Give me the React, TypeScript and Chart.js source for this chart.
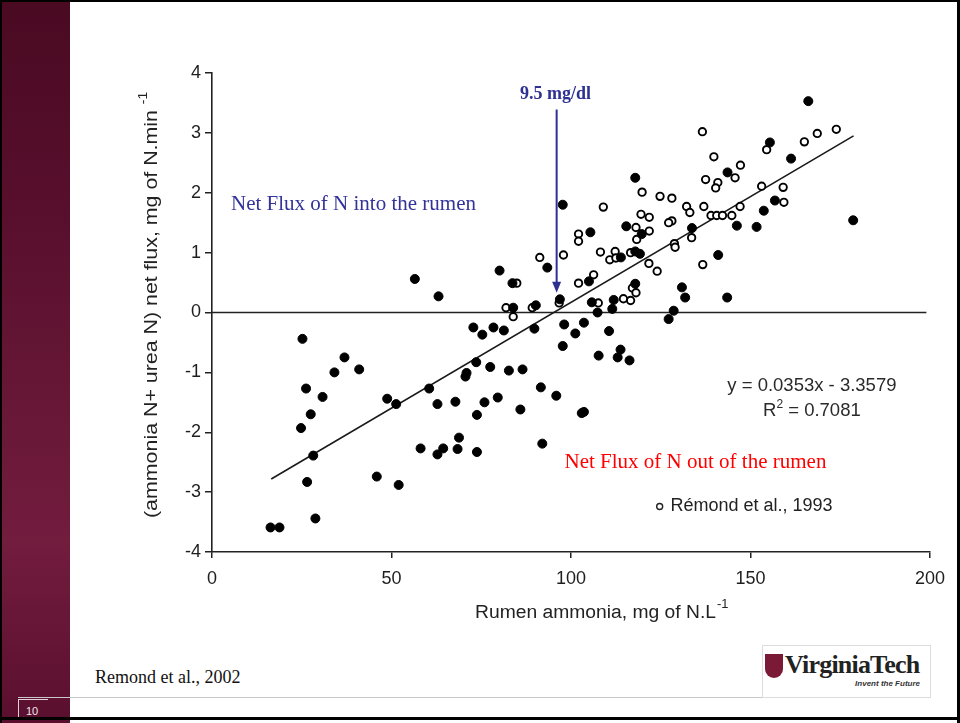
import React, { useEffect, useRef } from "react";
import { Chart, registerables } from "chart.js";

Chart.register(...registerables);

const SANS = '"Liberation Sans", Arial, Helvetica, sans-serif';
const SERIF = '"Liberation Serif", "Times New Roman", Times, serif';
const BLUE = "#2e3192";
const INK = "#1e1e1e";

const X_TICKS = [0, 50, 100, 150, 200];
const Y_TICKS = [-4, -3, -2, -1, 0, 1, 2, 3, 4];

// Rémond et al., 2002 (filled circles)
const filledX = [
  97.7, 56.5, 63.1, 80.1, 93.4, 83.7, 83.9, 90.2, 96.9, 166.1, 155.4, 161.3, 143.6, 117.9, 156.8, 178.6,
  153.7, 146.2, 151.7, 133.7, 115.4, 119.7, 105.4, 113.9, 117.9, 119.2, 141.0, 105.0, 117.9, 130.9, 131.8,
  143.5, 111.9, 111.5, 105.8, 107.4, 128.6, 127.2, 103.6, 98.1, 101.2, 97.7, 110.6, 107.7, 113.8, 113.0,
  116.3, 103.0, 103.6, 25.2, 36.9, 34.1, 41.0, 26.2, 30.8, 27.5, 24.8, 28.2, 26.5, 28.8, 16.3, 18.8, 45.9,
  52.0, 48.8, 51.3, 60.5, 62.8, 58.1, 62.8, 64.4, 67.8, 68.4, 68.8, 70.6, 70.9, 72.8, 75.3, 78.4, 81.3,
  73.6, 77.5, 73.8, 75.9, 79.6, 73.8, 82.7, 86.5, 85.9, 91.6, 92.0, 95.9, 89.8,
];
const filledY = [
  1.8, 0.56, 0.27, 0.7, 0.75, 0.49, 0.08, 0.12, 0.22, 3.53, 2.84, 2.57, 2.34, 2.25, 1.87, 1.54,
  1.7, 1.45, 1.43, 1.41, 1.44, 1.31, 1.34, 0.92, 1.02, 0.98, 0.96, 0.52, 0.48, 0.42, 0.25,
  0.25, 0.21, 0.06, 0.17, 0.0, 0.03, -0.11, -0.17, -0.2, -0.35, -0.56, -0.31, -0.72, -0.62, -0.75,
  -0.8, -1.68, -1.66, -0.44, -0.75, -1.0, -0.95, -1.27, -1.41, -1.7, -1.93, -2.39, -2.83, -3.44, -3.59, -3.59, -2.74,
  -2.88, -1.44, -1.53, -1.27, -1.53, -2.27, -2.37, -2.27, -1.49, -2.28, -2.09, -1.07, -1.01, -0.25, -0.37, -0.25, -0.3,
  -0.83, -0.91, -1.71, -1.5, -1.42, -2.33, -0.97, -0.95, -1.62, -1.25, -2.19, -1.39, -0.27,
];

// Rémond et al., 1993 (open circles)
const openX = [
  84.9, 91.3, 97.9, 102.1, 102.1, 102.1, 81.9, 83.9, 89.2, 96.7, 136.6, 173.9, 168.6, 165.0, 154.5, 139.8,
  147.2, 145.7, 137.5, 140.9, 140.3, 119.8, 124.8, 128.1, 153.1, 159.1, 159.3, 109.0, 132.2, 133.1, 137.0,
  147.1, 139.0, 140.6, 142.2, 144.8, 133.6, 128.1, 127.2, 119.5, 121.8, 118.1, 121.8, 118.3, 128.8, 129.0,
  108.2, 112.3, 110.8, 112.5, 116.6, 121.7, 124.0, 136.7, 106.3, 117.1, 118.1, 116.6, 114.6, 107.6,
];
const openY = [
  0.49, 0.92, 0.96, 1.31, 1.19, 0.49, 0.08, -0.07, 0.08, 0.16, 3.02, 3.06, 2.99, 2.85, 2.72, 2.6,
  2.46, 2.25, 2.22, 2.17, 2.08, 2.01, 1.94, 1.91, 2.11, 2.09, 1.84, 1.76, 1.77, 1.67, 1.77,
  1.77, 1.62, 1.62, 1.62, 1.62, 1.25, 1.53, 1.5, 1.64, 1.59, 1.42, 1.36, 1.22, 1.15, 1.09,
  1.01, 1.02, 0.88, 0.91, 1.0, 0.82, 0.69, 0.8, 0.63, 0.41, 0.33, 0.2, 0.23, 0.16,
];

// regression line and zero reference line
const fitX = [16.5, 178.7];
const fitY = [-2.78, 2.95];
const zeroX = [0, 199];
const zeroY = [0, 0];

// annotation texts
const yTitle = "(ammonia N+ urea N) net flux, mg of N.min";
const xTitle = "Rumen ammonia, mg of N.L";
const unitSup = "-1";
const thresholdLabel = "9.5 mg/dl";
const thresholdX = 96;
const arrowTopY = 3.39;
const arrowTipY = 0.33;
const intoLabel = "Net Flux of N into the rumen";
const outLabel = "Net Flux of N out of the rumen";
const eqLine = "y = 0.0353x - 3.3579";
const r2Value = " = 0.7081";
const legendLabel = "Rémond et al., 1993";

const toPts = (xs: number[], ys: number[]) => xs.map((x, i) => ({ x, y: ys[i] }));

const overlay = {
  id: "overlay",
  afterDatasetsDraw(chart: any) {
    const { ctx, chartArea } = chart;
    const xs = chart.scales.x;
    const ys = chart.scales.y;
    const px = (v: number) => xs.getPixelForValue(v);
    const py = (v: number) => ys.getPixelForValue(v);
    ctx.save();

    // threshold arrow
    const ax = px(thresholdX);
    const tip = py(arrowTipY);
    ctx.strokeStyle = BLUE;
    ctx.fillStyle = BLUE;
    ctx.lineWidth = 2;
    ctx.beginPath();
    ctx.moveTo(ax, py(arrowTopY));
    ctx.lineTo(ax, tip - 9);
    ctx.stroke();
    ctx.beginPath();
    ctx.moveTo(ax, tip);
    ctx.lineTo(ax - 4.5, tip - 11);
    ctx.lineTo(ax + 4.5, tip - 11);
    ctx.closePath();
    ctx.fill();

    ctx.textBaseline = "middle";
    ctx.textAlign = "center";
    ctx.font = `bold 18px ${SERIF}`;
    ctx.fillText(thresholdLabel, px(95.7), py(3.64));

    ctx.textAlign = "left";
    ctx.font = `21px ${SERIF}`;
    ctx.fillStyle = "#33339a";
    ctx.fillText(intoLabel, px(5.3), py(1.8));
    ctx.fillStyle = "#ff0000";
    ctx.fillText(outLabel, px(98.2), py(-2.5));

    // equation
    ctx.fillStyle = "#2a2a2a";
    ctx.font = `18.5px ${SANS}`;
    ctx.textAlign = "center";
    ctx.fillText(eqLine, px(167.1), py(-1.22));
    const rW = ctx.measureText("R").width;
    ctx.font = `12px ${SANS}`;
    const sW = ctx.measureText("2").width;
    ctx.font = `18.5px ${SANS}`;
    const vW = ctx.measureText(r2Value).width;
    const total = rW + sW + vW;
    const sx = px(167.1) - total / 2;
    const ry = py(-1.65);
    ctx.textAlign = "left";
    ctx.fillText("R", sx, ry);
    ctx.font = `12px ${SANS}`;
    ctx.fillText("2", sx + rW, ry - 7);
    ctx.font = `18.5px ${SANS}`;
    ctx.fillText(r2Value, sx + rW + sW, ry);

    // legend
    ctx.strokeStyle = "#222";
    ctx.lineWidth = 1.4;
    ctx.beginPath();
    ctx.arc(px(124.7), py(-3.24), 3, 0, Math.PI * 2);
    ctx.stroke();
    ctx.fillStyle = "#222";
    ctx.font = `18px ${SANS}`;
    ctx.fillText(legendLabel, px(127.7), py(-3.24));

    // x title
    ctx.font = `18px ${SANS}`;
    const xw = ctx.measureText(xTitle).width;
    ctx.save();
    ctx.translate(chartArea.left + 263, chartArea.bottom + 61);
    ctx.scale(241 / xw, 1);
    ctx.fillText(xTitle, 0, 0);
    ctx.font = `12px ${SANS}`;
    ctx.fillText(unitSup, xw + 1, -8);
    ctx.restore();

    // y title
    ctx.font = `18.5px ${SANS}`;
    const yw = ctx.measureText(yTitle).width;
    ctx.save();
    ctx.translate(chartArea.left - 60, chartArea.bottom - 34);
    ctx.rotate(-Math.PI / 2);
    ctx.scale(408 / yw, 1);
    ctx.fillText(yTitle, 0, 0);
    ctx.font = `12px ${SANS}`;
    ctx.fillText(unitSup, yw + 5, -8);
    ctx.restore();

    ctx.restore();
  },
};

function ScatterChart() {
  const ref = useRef<HTMLCanvasElement | null>(null);
  useEffect(() => {
    if (!ref.current) return;
    const axisCommon = {
      type: "linear" as const,
      grid: { display: true, drawOnChartArea: false, drawTicks: true, color: "#222", lineWidth: 1.5 },
      border: { display: true, color: "#222", width: 1.6 },
    };
    const chart = new Chart(ref.current, {
      type: "scatter",
      data: {
        datasets: [
          {
            label: "Rémond et al., 2002",
            data: toPts(filledX, filledY),
            backgroundColor: "#000",
            borderColor: "#000",
            borderWidth: 1,
            pointRadius: 4.5,
          },
          {
            label: "Rémond et al., 1993",
            data: toPts(openX, openY),
            backgroundColor: "#fff",
            borderColor: "#000",
            borderWidth: 1.9,
            pointRadius: 3.7,
          },
          {
            label: "fit",
            type: "line",
            data: toPts(fitX, fitY),
            borderColor: "#1a1a1a",
            borderWidth: 1.6,
            pointRadius: 0,
            showLine: true,
          } as any,
          {
            label: "zero",
            type: "line",
            data: toPts(zeroX, zeroY),
            borderColor: "#222",
            borderWidth: 1.7,
            pointRadius: 0,
            showLine: true,
          } as any,
        ],
      },
      options: {
        animation: false,
        responsive: false,
        devicePixelRatio: 1,
        layout: { padding: { left: 0, right: 30, top: 73, bottom: 71 } },
        plugins: { legend: { display: false }, tooltip: { enabled: false } },
        events: [],
        scales: {
          x: {
            ...axisCommon,
            min: 0,
            max: 200,
            afterBuildTicks: (s: any) => {
              s.ticks = X_TICKS.map((v) => ({ value: v }));
            },
            afterFit: (s: any) => {
              s.height = 100;
            },
            grid: { ...axisCommon.grid, tickLength: 6 },
            ticks: {
              autoSkip: false,
              maxRotation: 0,
              padding: 10,
              color: INK,
              font: { family: SANS, size: 18 },
              callback: (v: any) => String(v),
            },
          },
          y: {
            ...axisCommon,
            min: -4,
            max: 4,
            afterBuildTicks: (s: any) => {
              s.ticks = Y_TICKS.map((v) => ({ value: v }));
            },
            afterFit: (s: any) => {
              s.width = 212;
            },
            grid: { ...axisCommon.grid, tickLength: 7 },
            ticks: {
              autoSkip: false,
              padding: 4,
              color: INK,
              font: { family: SANS, size: 18 },
              callback: (v: any) => String(v),
            },
          },
        },
      },
      plugins: [overlay],
    } as any);
    return () => chart.destroy();
  }, []);
  return (
    <canvas
      ref={ref}
      width={960}
      height={723}
      style={{ position: "absolute", left: 0, top: 0, width: 960, height: 723 }}
    />
  );
}

export default function App() {
  const abs = (s: React.CSSProperties): React.CSSProperties => ({ position: "absolute", ...s });
  return (
    <div style={{ position: "fixed", left: 0, top: 0, width: 960, height: 723, background: "#fff", overflow: "hidden" }}>
      <div
        style={abs({
          left: 0,
          top: 0,
          width: 70,
          height: 723,
          background:
            "linear-gradient(180deg, #4a0a22 0%, #580f2d 30%, #671736 55%, #721c3e 75%, #5a0f2e 100%)",
        })}
      />
      <div style={abs({ left: 0, top: 0, width: 960, height: 2, background: "#000" })} />
      <div style={abs({ left: 957, top: 0, width: 3, height: 723, background: "#000" })} />
      <div style={abs({ left: 0, top: 0, width: 2, height: 723, background: "#000" })} />
      <div style={abs({ left: 0, top: 717, width: 960, height: 3, background: "#000" })} />
      <div style={abs({ left: 18, top: 697, width: 912, height: 1, background: "#c8c8c8" })} />
      <div style={abs({ left: 18, top: 699, width: 30, height: 1, background: "#e0d0d8" })} />
      <div style={abs({ left: 18, top: 699, width: 1, height: 18, background: "#e0d0d8" })} />
      <div style={abs({ left: 26, top: 705, fontFamily: SANS, fontSize: 11, color: "#f0e6ea", lineHeight: "12px" })}>10</div>
      <div style={abs({ left: 95, top: 666, fontFamily: SERIF, fontSize: 18, color: "#111", lineHeight: "22px", whiteSpace: "nowrap" })}>
        Remond et al., 2002
      </div>
      <div style={abs({ left: 762, top: 645, width: 167, height: 51, border: "1px solid #dcdcdc", background: "#fff" })}>
        <div
          style={abs({
            left: 2,
            top: 8,
            width: 18,
            height: 24,
            background: "#7a1a36",
            borderRadius: "0 0 9px 9px",
          })}
        />
        <div
          style={abs({
            left: 22,
            top: 4,
            fontFamily: SERIF,
            fontWeight: "bold",
            fontSize: 26,
            letterSpacing: "-0.8px",
            color: "#222",
            lineHeight: "30px",
            whiteSpace: "nowrap",
          })}
        >
          VirginiaTech
        </div>
        <div
          style={abs({
            right: 10,
            top: 33,
            fontFamily: SANS,
            fontWeight: "bold",
            fontStyle: "italic",
            fontSize: 8,
            color: "#333",
            lineHeight: "10px",
            whiteSpace: "nowrap",
          })}
        >
          Invent the Future
        </div>
      </div>
      <ScatterChart />
    </div>
  );
}
